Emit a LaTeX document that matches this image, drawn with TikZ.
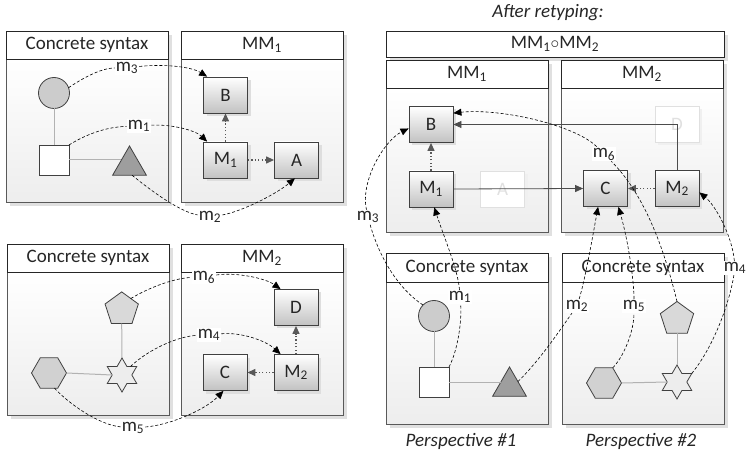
\documentclass[tikz,border=0pt]{standalone}
\usepackage{fontspec}
\setmainfont{Carlito}
\usetikzlibrary{shapes.geometric,arrows.meta,shadows}
\newcommand\mysub[1]{\textsubscript{#1}}
\tikzset{
  panelshadow/.style={fill=black!12, draw=none},
  panelbody/.style={draw=black!65, line width=0.9pt, top color=white, bottom color=black!7},
  panelhead/.style={draw=black!85, line width=0.9pt, fill=white, inner sep=0pt, text=black!85},
  mbox/.style={draw=black!75, line width=0.8pt, top color=white, bottom color=black!24,
    minimum width=44pt, minimum height=36pt, inner sep=0pt, text=black!85,
    general shadow={fill=black!13, shadow xshift=3pt, shadow yshift=-3pt}},
  ghost/.style={draw=black!12, line width=0.8pt, fill=white, minimum width=44pt,
    minimum height=36pt, inner sep=0pt, text=black!12,
    general shadow={fill=black!6, shadow xshift=3pt, shadow yshift=-3pt}},
  csshape/.style={draw=black!75, line width=0.8pt, inner sep=0pt, outer sep=0pt},
  circ/.style={csshape, circle, fill=black!20, minimum size=31pt},
  sq/.style={csshape, rectangle, fill=white, minimum size=30pt},
  tri/.style={csshape, regular polygon, regular polygon sides=3, fill=black!38, minimum size=39pt},
  pent/.style={csshape, regular polygon, regular polygon sides=5, fill=black!15, minimum size=35pt},
  hexa/.style={csshape, regular polygon, regular polygon sides=6, fill=black!18, minimum size=35pt},
  hstar/.style={csshape, star, star points=6, star point ratio=1.73, fill=black!7, minimum size=34pt},
  link/.style={draw=black!30, line width=1pt},
  map/.style={draw=black, dash pattern=on 3pt off 2pt, line width=0.6pt, -{Triangle[length=8pt,width=7pt]}},
  mlabel/.style={fill=white, inner sep=1pt, text=black!85},
  dep/.style={draw=black!65, dash pattern=on 1.2pt off 2.2pt, line width=1.2pt, -{Triangle[length=8pt,width=7pt]}},
  rel/.style={draw=black!70, line width=0.8pt, -{Triangle[length=8pt,width=7pt]}},
  caption/.style={font=\fontsize{19}{22}\selectfont\itshape, text=black!85},
}
\newcommand\mypanel[7]{%
  \fill[panelshadow] (#2+4,#3+4) rectangle (#4+4,#6+4);
  \path[panelbody] (#2,#5) rectangle (#4,#6);
  \node[panelhead, minimum width={(#4-#2)*1pt}, minimum height={(#5-#3)*1pt}] (#1) at ({(#2+#4)/2},{(#3+#5)/2}) {#7};
}
\begin{document}
\begin{tikzpicture}[x=1pt, y=-1pt, font=\fontsize{19}{22}\selectfont]
\useasboundingbox (0,0) rectangle (747,454);

% ---------- panels ----------
\mypanel{cs1}{6}{31}{168}{59}{202}{Concrete syntax}
\mypanel{mm1}{181}{31}{343}{59}{202}{MM\mysub{1}}
\mypanel{cs2}{7}{244}{169}{272}{415}{Concrete syntax}
\mypanel{mm2}{181}{244}{343}{272}{415}{MM\mysub{2}}

\node[caption] (title) at (548,13) {After retyping:};
\fill[panelshadow] (390,35) rectangle (728,61);
\node[panelhead, minimum width=338pt, minimum height=26pt] (mm12) at (555,44) {MM\mysub{1}$\circ$MM\mysub{2}};
\mypanel{rmm1}{386}{60}{548}{88}{232}{MM\mysub{1}}
\mypanel{rmm2}{561}{60}{723}{88}{232}{MM\mysub{2}}
\mypanel{rcs1}{386}{253}{548}{282}{424}{Concrete syntax}
\mypanel{rcs2}{562}{253}{724}{282}{424}{Concrete syntax}
\node[caption] (p1lbl) at (461,441) {Perspective \#1};
\node[caption] (p2lbl) at (641,441) {Perspective \#2};

% ---------- left top ----------
\node[circ] (c1) at (54,93) {};
\node[sq] (s1) at (54,160) {};
\node[tri] (t1) at (129.5,165.5) {};
\draw[link] (c1.south) -- (s1.north);
\draw[link] (s1.east) -- ([xshift=3pt]t1.west |- s1.east);
\node[mbox] (B1) at (225.5,95) {B};
\node[mbox] (M11) at (225.5,160) {M\mysub{1}};
\node[mbox] (A1) at (296.5,160) {A};
\draw[dep] (M11) -- (B1);
\draw[dep] (M11) -- (A1);

% ---------- left bottom ----------
\node[pent] (p1) at (121.7,309.4) {};
\node[hstar] (st1) at (122,375) {};
\node[hexa] (h1) at (49,373) {};
\draw[link] (p1.south) -- (st1.north);
\draw[link] (h1.east) -- (st1.west);
\node[mbox] (D2) at (296,307.5) {D};
\node[mbox] (M22) at (296,372.5) {M\mysub{2}};
\node[mbox] (C2) at (225,372.5) {C};
\draw[dep] (M22) -- (D2);
\draw[dep] (M22) -- (C2);

% ---------- right ----------
\node[mbox] (B3) at (431,124.5) {B};
\node[mbox] (M13) at (431,189) {M\mysub{1}};
\node[ghost] (A3) at (502.5,189) {A};
\node[ghost] (D4) at (677,124) {D};
\node[mbox] (C4) at (605.5,188.5) {C};
\node[mbox] (M24) at (677,188.5) {M\mysub{2}};
\draw[dep] (M13) -- (B3);
\draw[dep] (M24) -- (C4);
\draw[rel] (M13.east) -- (C4.west);
\draw[rel] (M24.north) |- (B3.east);

\node[circ] (c3) at (434,316) {};
\node[sq] (s3) at (434,382) {};
\node[tri] (t3) at (509.5,386.5) {};
\draw[link] (c3.south) -- (s3.north);
\draw[link] (s3.east) -- ([xshift=3pt]t3.west |- s3.east);
\node[pent] (p3) at (677,319) {};
\node[hstar] (st3) at (677,382) {};
\node[hexa] (h3) at (604,383) {};
\draw[link] (p3.south) -- (st3.north);
\draw[link] (h3.east) -- (st3.west);

% ---------- mapping labels ----------
\node[mlabel] (lm3) at (127,68) {m\mysub{3}};
\node[mlabel] (lm1) at (139,126) {m\mysub{1}};
\node[mlabel] (lm2) at (210,217) {m\mysub{2}};
\node[mlabel] (lm6) at (204,277) {m\mysub{6}};
\node[mlabel] (lm4) at (209,335) {m\mysub{4}};
\node[mlabel] (lm5) at (133,428) {m\mysub{5}};
\node[mlabel] (rm3) at (368,217) {m\mysub{3}};
\node[mlabel] (rm1) at (460,297) {m\mysub{1}};
\node[mlabel] (rm2) at (577,306) {m\mysub{2}};
\node[mlabel] (rm5) at (634,306) {m\mysub{5}};
\node[mlabel] (rm6) at (604,154) {m\mysub{6}};
\node[mlabel] (rm4) at (735,268) {m\mysub{4}};

% ---------- mappings left ----------
\draw[map] (c1.20) .. controls (80,80) and (100,68) .. (lm3) .. controls (160,64) and (190,66) .. (B1.135);
\draw[map] (s1.north east) .. controls (85,135) and (105,127) .. (lm1) .. controls (170,124) and (195,130) .. (M11.135);
\draw[map] (t1.-75) .. controls (150,190) and (180,212) .. (lm2) .. controls (240,212) and (275,195) .. (A1.-95);
\draw[map] (p1.50) .. controls (150,287) and (175,278) .. (lm6) .. controls (235,272) and (265,278) .. (D2.130);
\draw[map] (st1.45) .. controls (150,348) and (180,336) .. (lm4) .. controls (240,332) and (265,340) .. (M22.130);
\draw[map] (h1.-70) .. controls (70,405) and (100,425) .. (lm5) .. controls (170,425) and (205,410) .. (C2.-95);

% ---------- mappings right ----------
\draw[map] (c3.135) .. controls (400,290) and (380,260) .. (rm3) .. controls (360,180) and (385,140) .. (B3.190);
\draw[map] (s3.north east) .. controls (458,350) and (462,320) .. (rm1) .. controls (458,270) and (445,240) .. (M13.-80);
\draw[map] (t3.30) .. controls (540,360) and (560,330) .. (rm2) .. controls (585,280) and (592,240) .. (C4.-112);
\draw[map] (h3.60) .. controls (625,355) and (634,330) .. (rm5) .. controls (634,280) and (628,240) .. (C4.-55);
\draw[map] (p3.north) .. controls (668,265) and (650,200) .. (rm6) .. controls (575,125) and (500,108) .. (B3.27);
\draw[map] (st3.30) .. controls (715,345) and (730,300) .. (rm4) .. controls (732,235) and (715,205) .. (M24.-10);
\end{tikzpicture}
\end{document}
